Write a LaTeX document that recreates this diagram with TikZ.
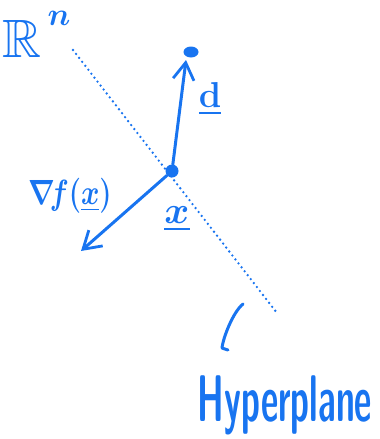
\RequirePackage{fix-cm}
\documentclass[tikz,border=0pt]{standalone}
\usepackage{amsmath,amssymb}
\usetikzlibrary{arrows.meta,shapes.geometric}
\definecolor{ink}{HTML}{1874F0}
\begin{document}
\begin{tikzpicture}[x=1pt,y=-1pt,
  every node/.style={text=ink},
  pen/.style={draw=ink,line width=3pt,line cap=round,line join=round},
  barb/.style={-{Straight Barb[length=17pt,width=21pt,line width=2.8pt]}},
  hyperline/.style={draw=ink,line width=2.6pt,dash pattern=on 0pt off 5pt,line cap=round},
  lbl/.style={inner sep=0pt}]
\useasboundingbox (0,0) rectangle (380,439);
% hyperplane (dotted)
\coordinate (h1) at (73,50);
\coordinate (h2) at (277,313);
\draw[hyperline] (h1) -- (h2);
% point x
\node[circle,fill=ink,minimum size=13pt,inner sep=0pt] (px) at (172,171) {};
% direction d
\node[ellipse,fill=ink,minimum width=15pt,minimum height=11pt,inner sep=0pt] (dtop) at (191,52) {};
\coordinate (dtip) at (186,60);
\draw[pen,barb] (px) -- (dtip);
% gradient arrow
\coordinate (gtip) at (81,251);
\draw[pen,barb] (px) -- (gtip);
% labels
\node[lbl] (Rlab) at (22,39) {\fontsize{54}{58}\selectfont$\mathbb{R}$};
\node[lbl] (nlab) at (59,18) {\fontsize{32}{36}\selectfont$\boldsymbol{n}$};
\node[lbl] (dlab) at (210,99) {\fontsize{36}{40}\selectfont$\underline{\mathbf{d}}$};
\node[lbl] (xlab) at (177,219) {\fontsize{38}{42}\selectfont$\underline{\boldsymbol{x}}$};
\node[lbl] (glab) at (70,196) {\scalebox{1}[1.25]{\fontsize{28}{32}\selectfont$\boldsymbol{\nabla\! f(}\underline{\boldsymbol{x}}\boldsymbol{)}$}};
\node[lbl,anchor=base] (hp) at (285,421) {\scalebox{1.12}[2.2]{\fontsize{30}{34}\selectfont\sffamily\bfseries Hyperplane}};
% bracket
\draw[pen] (243,304) .. controls (233,312) and (223,338) .. (222,348) -- (228,350);
\end{tikzpicture}
\end{document}
